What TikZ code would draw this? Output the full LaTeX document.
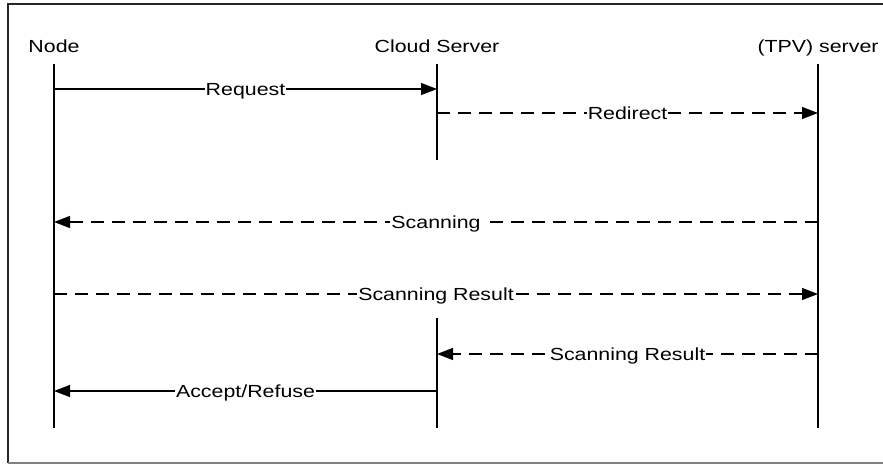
\documentclass[tikz,border=0pt]{standalone}
\usepackage{fontspec}
\setmainfont{Liberation Sans}[FakeStretch=1.22]
\usetikzlibrary{arrows.meta}
\begin{document}
\begin{tikzpicture}[x=1pt,y=-1pt,
  life/.style={line width=1.5pt},
  msg/.style={line width=1.2pt,-{Triangle[length=16pt,width=12pt]}},
  dsh/.style={dash pattern=on 13pt off 8pt},
  txt/.style={inner sep=1pt,font=\fontsize{17.5}{20}\selectfont,text height=12.5pt,text depth=0pt},
  lbl/.style={txt,fill=white}]
\useasboundingbox (0,0) rectangle (883,464);
\draw[line width=1.5pt,black!85] (884,4) -- (8,4) -- (8,463);
\draw[line width=1.5pt,black!50] (8,463) -- (884,463);
% heads
\node[txt] (hN) at (54,46) {Node};
\node[txt] (hC) at (437,46) {Cloud Server};
\node[txt] (hT) at (818,46) {(TPV) server};
% lifelines
\coordinate (N0) at (54,64);  \coordinate (N1) at (54,428);
\coordinate (C0) at (437,64); \coordinate (C1) at (437,160);
\coordinate (C2) at (437,318); \coordinate (C3) at (437,428);
\coordinate (T0) at (818,64); \coordinate (T1) at (818,428);
\draw[life] (N0) -- (N1);
\draw[life] (C0) -- (C1);
\draw[life] (C2) -- (C3);
\draw[life] (T0) -- (T1);
% message points
\coordinate (nReq) at (54,89);   \coordinate (cReq) at (437,89);
\coordinate (cRed) at (437,113); \coordinate (tRed) at (818,113);
\coordinate (tScn) at (818,222); \coordinate (nScn) at (54,222);
\coordinate (nRes) at (54,294);  \coordinate (tRes) at (818,294);
\coordinate (tRs2) at (818,354); \coordinate (cRs2) at (437,354);
\coordinate (cAcc) at (437,391); \coordinate (nAcc) at (54,391);
% messages
\draw[msg] (nReq) -- node[lbl] (lReq) {Request} (cReq);
\draw[msg,dsh] (cRed) -- node[lbl] (lRed) {Redirect} (tRed);
\draw[msg,dsh] (tScn) -- node[lbl] (lScn) {Scanning} (nScn);
\draw[msg,dsh] (nRes) -- node[lbl] (lRes) {Scanning Result} (tRes);
\draw[msg,dsh] (tRs2) -- node[lbl] (lRs2) {Scanning Result} (cRs2);
\draw[msg] (cAcc) -- node[lbl] (lAcc) {Accept/Refuse} (nAcc);
\end{tikzpicture}
\end{document}
